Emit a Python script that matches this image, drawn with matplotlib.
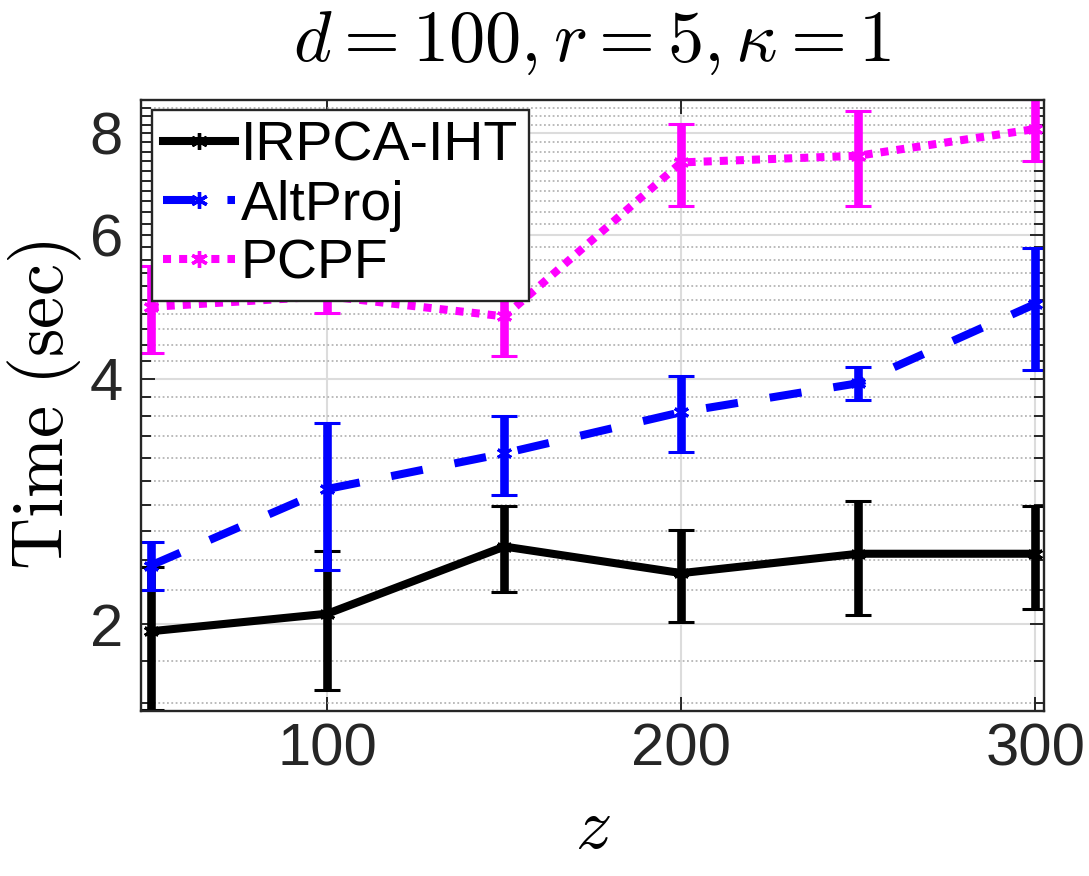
import numpy as np
import matplotlib
matplotlib.use("Agg")
from matplotlib import pyplot as plt
from matplotlib.lines import Line2D
from matplotlib.ticker import FixedLocator, NullFormatter

plt.rcParams['mathtext.fontset'] = 'cm'

z = [50, 100, 150, 200, 250, 300]
irpca = [1.96, 2.06, 2.49, 2.31, 2.44, 2.44]
irpca_err = [0.39, 0.40, 0.30, 0.30, 0.39, 0.35]
altproj = [2.36, 2.93, 3.24, 3.64, 3.95, 4.94]
altproj_err = [0.16, 0.60, 0.36, 0.39, 0.18, 0.84]
pcpf = [4.90, 5.05, 4.77, 7.37, 7.51, 8.10]
pcpf_err = [0.60, 0.23, 0.50, 0.85, 1.00, 0.71]
names = ['IRPCA-IHT', 'AltProj', 'PCPF']
colors = ['black', '#0000ff', '#ff00ff']
styles = ['-', (0, (4, 4)), (0, (1, 1))]

yticks = [2, 4, 6, 8]
xticks = [100, 200, 300]

fig = plt.figure(figsize=(10.89, 8.76), dpi=100)
ax = fig.add_axes([0.1295, 0.1884, 0.8292, 0.6974])

lw = 5.8
star = (6, 2, 0)
handles = []
for y, e, c, ls, nm in zip([irpca, altproj, pcpf], [irpca_err, altproj_err, pcpf_err],
                           colors, styles, names):
    eb = ax.errorbar(z, y, yerr=e, color=c, linewidth=lw, linestyle=ls,
                     elinewidth=6.2, capsize=9.6, capthick=6.5,
                     marker=star, markersize=11, markeredgewidth=2.2)
    eb[0].set_dash_capstyle('butt')
    handles.append(Line2D([], [], color=c, linewidth=lw, linestyle=ls,
                          marker=star, markersize=12, markeredgewidth=2.4,
                          dash_capstyle='butt', label=nm))

ax.set_yscale('log')
ax.set_xlim(47.3, 302.5)
ax.set_ylim(1.565, 8.79)
ax.yaxis.set_major_locator(FixedLocator(yticks))
ax.yaxis.set_minor_locator(FixedLocator(np.arange(1.6, 8.79, 0.2)))
ax.yaxis.set_minor_formatter(NullFormatter())
ax.set_yticklabels([str(t) for t in yticks])
ax.set_xticks(xticks)
ax.set_xticklabels([str(t) for t in xticks])

ax.grid(True, which='major', color='#dcdcdc', linewidth=1.5, linestyle='-')
ax.grid(True, which='minor', axis='y', color='#b5b5b5', linewidth=1.3,
        linestyle=(0, (1, 1.4)))
ax.set_axisbelow(True)

ax.tick_params(which='both', direction='in', top=True, right=True,
               color='#262626')
ax.tick_params(which='major', length=10, width=1.4)
ax.tick_params(which='minor', length=7, width=1.4)
for lab in ax.get_xticklabels() + ax.get_yticklabels():
    lab.set_fontfamily(['Liberation Sans', 'DejaVu Sans'])
    lab.set_fontsize(43)
    lab.set_color('#262626')
ax.tick_params(axis='x', pad=8)
ax.tick_params(axis='y', pad=13)
for s in ax.spines.values():
    s.set_linewidth(1.7)
    s.set_color('#262626')

ax.set_title(r'$d = 100, r = 5, \kappa = 1$', fontsize=52, pad=28)
ax.set_xlabel(r'$z$', fontsize=52, labelpad=12)
ax.set_ylabel(r'$\mathrm{Time\ (sec)}$', fontsize=52, labelpad=4)

leg = ax.legend(handles=handles, loc='upper left',
                bbox_to_anchor=(0.012, 0.984),
                prop={'family': 'Liberation Sans', 'size': 40},
                frameon=True, fancybox=False, edgecolor='#262626',
                framealpha=1, borderpad=0.2, labelspacing=0.12,
                handlelength=1.3, handletextpad=0.1, borderaxespad=0)
leg.get_frame().set_linewidth(1.7)

fig.savefig('out.png', dpi=100)
